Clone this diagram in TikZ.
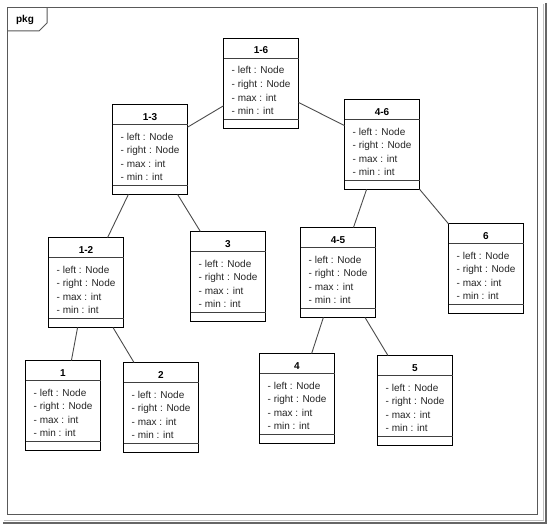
\documentclass[tikz,border=0pt]{standalone}
\usepackage{fontspec}
\setmainfont{Liberation Sans}
\begin{document}
\begin{tikzpicture}[x=1pt,y=-1pt,
  ubox/.style={draw=black, line width=1.8pt, fill=white, outer sep=0pt, inner sep=0pt,
    minimum width=75pt, minimum height=90pt},
  usep/.style={draw=black!75, line width=1.3pt},
  utitle/.style={inner sep=0pt, font=\fontsize{10}{12}\selectfont\bfseries},
  uattr/.style={inner sep=0pt, font=\fontsize{10}{12}\selectfont, text=black!85},
  conn/.style={draw=black!70, line width=0.9pt},
  frameline/.style={draw=black!65, line width=1pt}]
\useasboundingbox (0,0) rectangle (549,527);
\fill[white] (0,0) rectangle (549,527);
% frame and shadow
\draw[frameline] (7.5,7.5) rectangle (537.5,514.5);
\draw[draw=black!25, line width=0.8pt] (543,4) -- (543,520) -- (4,520);
\draw[draw=black!60, line width=2pt] (546,3) -- (546,523) -- (3,523);
\draw[frameline] (7.5,31) -- (39,31) -- (47,23) -- (47,7.5);
\node[utitle] (pkg) at (25,20) {pkg};
\newcommand\umlbox[4]{%
  \node[ubox, anchor=north west] (#1) at (#2,#3) {};
  \draw[usep] ([yshift=-20pt]#1.north west) -- ([yshift=-20pt]#1.north east);
  \draw[usep] ([yshift=9pt]#1.south west) -- ([yshift=9pt]#1.south east);
  \node[utitle, anchor=base] (#1t) at ([yshift=-15.5pt]#1.north) {#4};
  \node[uattr, anchor=base west] (#1a) at ([xshift=8pt,yshift=-35.5pt]#1.north west) {- left : Node};
  \node[uattr, anchor=base west] (#1b) at ([xshift=8pt,yshift=-49pt]#1.north west) {- right : Node};
  \node[uattr, anchor=base west] (#1c) at ([xshift=8pt,yshift=-62.5pt]#1.north west) {- max : int};
  \node[uattr, anchor=base west] (#1d) at ([xshift=8pt,yshift=-76pt]#1.north west) {- min : int};
}
% boxes
\umlbox{b16}{223.5}{38.5}{1-6}
\umlbox{b13}{112.5}{104.5}{1-3}
\umlbox{b46}{344.5}{99.5}{4-6}
\umlbox{b12}{48.5}{237.5}{1-2}
\umlbox{b3}{190.5}{231.5}{3}
\umlbox{b45}{300.5}{227.5}{4-5}
\umlbox{b6}{448.5}{223.5}{6}
\umlbox{b1}{25.5}{360.5}{1}
\umlbox{b2}{123.5}{362.5}{2}
\umlbox{b4}{259.5}{353.5}{4}
\umlbox{b5}{377.5}{355.5}{5}
% connectors (center to center, clipped at the borders)
\draw[conn] (b16) -- (b13);
\draw[conn] (b16) -- (b46);
\draw[conn] (b13) -- (b12);
\draw[conn] (b13) -- (b3);
\draw[conn] (b12) -- (b1);
\draw[conn] (b12) -- (b2);
\draw[conn] (b46) -- (b45);
\draw[conn] (b46) -- (b6);
\draw[conn] (b45) -- (b4);
\draw[conn] (b45) -- (b5);
\end{tikzpicture}
\end{document}
